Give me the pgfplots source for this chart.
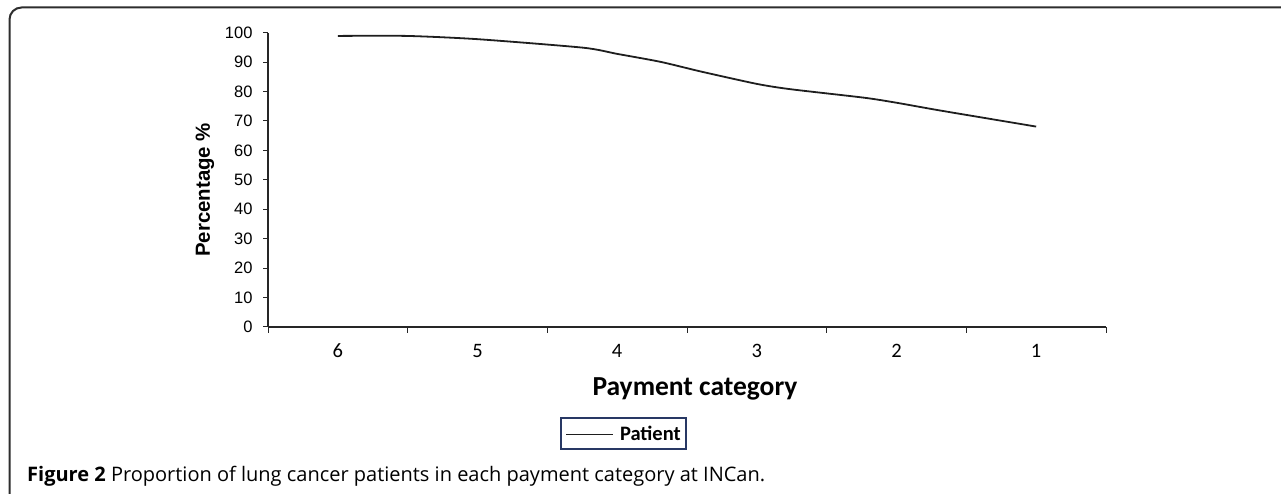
\documentclass[border=0pt]{standalone}
\usepackage{pgfplots}
\pgfplotsset{compat=1.18}
\usepackage{fontspec}
\setmainfont{Liberation Sans}
\newfontfamily\calibri{Carlito}
\newfontfamily\capfont{Open Sans}
\definecolor{framegray}{RGB}{45,45,45}
\definecolor{legblue}{RGB}{40,56,100}
\definecolor{linegray}{RGB}{30,30,30}

\begin{document}
\begin{tikzpicture}
  \path[use as bounding box] (0pt,0pt) rectangle (1281pt,494pt);
  % figure frame (top and left edges only, rounded corner)
  \draw[framegray, line width=2pt, rounded corners=12pt] (1281pt,486.5pt) -- (9.5pt,486.5pt) -- (9.5pt,0pt);

  \begin{axis}[
    at={(268pt,167pt)}, anchor=south west,
    scale only axis,
    width=838pt, height=294.3pt,
    xmin=-0.5, xmax=5.5,
    ymin=0, ymax=100,
    axis x line=bottom, axis y line=left,
    axis line style={-, line width=1.1pt, black!85},
    tick align=outside,
    ytick={0,10,...,100},
    major tick length=5pt,
    minor tick length=6pt,
    tick style={line width=1pt, black!85},
    xtick={0,1,2,3,4,5},
    xticklabels={6,5,4,3,2,1},
    major x tick style={draw=none},
    minor xtick={-0.5,0.5,1.5,2.5,3.5,4.5,5.5},
    /pgf/number format/assume math mode=true,
    yticklabel style={font=\fontsize{16.5}{18}\selectfont, anchor=east, xshift=-7pt},
    xticklabel style={font=\calibri\fontsize{20.5}{22}\selectfont, anchor=center, yshift=-19pt},
    xlabel={Payment category},
    ylabel={Percentage \%},
    every axis x label/.style={at={(rel axis cs:0.5095,0)}, anchor=center, yshift=-62pt,
      font=\calibri\bfseries\fontsize{27.5}{29}\selectfont},
    every axis y label/.style={at={(rel axis cs:0,0.466)}, anchor=center, xshift=-63pt, rotate=90,
      font=\bfseries\fontsize{20.4}{22}\selectfont},
    legend style={at={(rel axis cs:0.4242,-0.3619)}, anchor=center,
      draw=legblue, line width=2pt, inner xsep=3pt, inner ysep=3pt,
      font=\calibri\bfseries\fontsize{20.5}{22}\selectfont},
    legend image code/.code={\draw[#1] (0pt,0pt) -- (47pt,0pt); \path (-1pt,-11pt) (51pt,13pt);},
  ]
    \addplot[linegray, line width=1.8pt, smooth, tension=0.4] coordinates {
      (0,98.9) (0.495,98.9) (1.0,97.8) (1.757,94.9) (2.0,92.8) (2.31,90.1)
      (2.60,86.8) (3.0,82.6) (3.24,80.8) (3.77,77.9) (4.0,76.2) (4.32,73.5) (5.0,68.1)
    };
    \addlegendentry{Patient}
  \end{axis}

  \node[anchor=base west, inner sep=0pt, font=\capfont\fontsize{20}{22}\selectfont] at (27pt,12pt)
    {\textbf{Figure 2} Proportion of lung cancer patients in each payment category at INCan.};
\end{tikzpicture}
\end{document}
